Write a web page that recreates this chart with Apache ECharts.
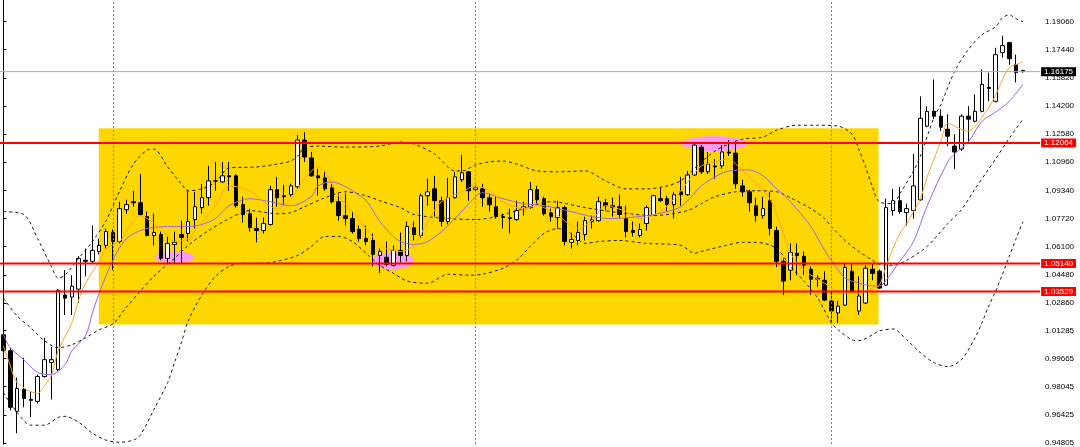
<!DOCTYPE html>
<html><head><meta charset="utf-8">
<script src="https://cdn.jsdelivr.net/npm/echarts@6/dist/echarts.min.js"></script>
<style>html,body{margin:0;padding:0;background:#fff;}#c{width:1080px;height:447px;}</style>
</head><body><div id="c"></div>
<script>
// ---- data (prices) ----
const opens = [1.0103,1.0011,0.9663,0.9788,0.9731,0.9720,0.9863,0.9943,0.9903,1.0332,1.0320,1.0366,1.0532,1.0526,1.0583,1.0618,1.0692,1.0640,1.0823,1.0869,
1.0863,1.0783,1.0675,1.0680,1.0543,1.0623,1.0680,1.0686,1.0766,1.0835,1.0892,1.0989,1.0983,1.1018,1.1018,1.0852,1.0800,1.0715,1.0703,1.0738,
1.0938,1.0903,1.0909,1.0955,1.1224,1.1121,1.1018,1.1006,1.0949,1.0869,1.0789,1.0772,1.0709,1.0657,1.0646,1.0560,1.0549,1.0503,1.0589,1.0560,
1.0720,1.0675,1.0903,1.0943,1.0875,1.0755,1.0892,1.0995,1.1041,1.0938,1.0943,1.0892,1.0840,1.0783,1.0778,1.0766,1.0829,1.0835,1.0938,1.0886,
1.0806,1.0778,1.0835,1.0635,1.0646,1.0680,1.0755,1.0760,1.0863,1.0846,1.0840,1.0772,1.0703,1.0675,1.0743,1.0795,1.0886,1.0886,1.0852,1.0926,
1.0909,1.1023,1.1183,1.1041,1.1075,1.1075,1.1155,1.1149,1.0960,1.0926,1.0846,1.0789,1.0875,1.0703,1.0526,1.0475,1.0572,1.0555,1.0480,1.0429,
1.0417,1.0297,1.0229,1.0274,1.0469,1.0240,1.0286,1.0480,1.0469,1.0389,1.0818,1.0875,1.0806,1.0818,1.0880,1.1304,1.1389,1.1361,1.1286,1.1189,
1.1172,1.1361,1.1332,1.1389,1.1527,1.1447,1.1727,1.1784,1.1658,1.1624];
const closes = [1.0011,0.9686,0.9794,0.9737,0.9726,0.9863,0.9960,0.9960,1.0360,1.0314,1.0383,1.0543,1.0526,1.0589,1.0618,1.0697,1.0640,1.0829,1.0852,1.0863,
1.0795,1.0675,1.0692,1.0543,1.0629,1.0635,1.0663,1.0755,1.0840,1.0892,1.0989,1.0988,1.1018,1.1012,1.0846,1.0795,1.0720,1.0703,1.0743,1.0938,
1.0892,1.0898,1.0960,1.1224,1.1126,1.1018,1.1006,1.0943,1.0869,1.0789,1.0772,1.0697,1.0657,1.0640,1.0566,1.0583,1.0509,1.0589,1.0560,1.0726,
1.0680,1.0903,1.0926,1.0875,1.0755,1.0892,1.1012,1.1035,1.0932,1.0949,1.0892,1.0852,1.0783,1.0778,1.0772,1.0818,1.0840,1.0938,1.0880,1.0800,
1.0783,1.0835,1.0640,1.0652,1.0692,1.0760,1.0766,1.0869,1.0846,1.0835,1.0795,1.0697,1.0692,1.0709,1.0835,1.0903,1.0875,1.0852,1.0909,1.0909,
1.1023,1.1195,1.1041,1.1086,1.1069,1.1155,1.1149,1.0972,1.0926,1.0863,1.0789,1.0829,1.0715,1.0526,1.0412,1.0577,1.0560,1.0503,1.0423,1.0423,
1.0303,1.0240,1.0269,1.0492,1.0354,1.0326,1.0486,1.0457,1.0372,1.0835,1.0875,1.0812,1.0829,1.0960,1.1349,1.1389,1.1361,1.1298,1.1246,1.1155,
1.1361,1.1344,1.1389,1.1544,1.1521,1.1715,1.1767,1.1692,1.1612,1.16175];
const highs = [1.0200,1.0029,0.9857,0.9971,0.9777,0.9874,1.0086,1.0034,1.0366,1.0475,1.0446,1.0555,1.0600,1.0732,1.0657,1.0715,1.0709,1.0869,1.0880,1.0932,
1.1029,1.0812,1.0800,1.0697,1.0669,1.0697,1.0760,1.0938,1.0926,1.0972,1.1075,1.1098,1.1098,1.1098,1.1029,1.0898,1.0829,1.0778,1.0778,1.0960,
1.1012,1.0966,1.0972,1.1252,1.1269,1.1155,1.1058,1.1041,1.0972,1.0915,1.0915,1.0812,1.0732,1.0732,1.0686,1.0600,1.0640,1.0618,1.0692,1.0755,
1.0755,1.0915,1.1001,1.1018,1.0898,1.1006,1.1041,1.1138,1.1046,1.0966,1.0972,1.0915,1.0898,1.0800,1.0829,1.0875,1.0869,1.0983,1.0960,1.0898,
1.0829,1.0875,1.0846,1.0686,1.0755,1.0783,1.0789,1.0898,1.0886,1.0892,1.0909,1.0846,1.0755,1.0743,1.0846,1.0909,1.0949,1.0903,1.0926,1.1012,
1.1046,1.1201,1.1195,1.1155,1.1115,1.1195,1.1224,1.1218,1.0995,1.0938,1.0892,1.0898,1.0926,1.0726,1.0543,1.0629,1.0629,1.0583,1.0497,1.0446,
1.0469,1.0354,1.0297,1.0515,1.0515,1.0440,1.0503,1.0515,1.0480,1.0886,1.0943,1.0955,1.0858,1.1144,1.1475,1.1418,1.1572,1.1401,1.1372,1.1258,
1.1372,1.1418,1.1487,1.1629,1.1612,1.1755,1.1824,1.1790,1.1715,1.1629];
const lows = [0.9971,0.9668,0.9537,0.9686,0.9628,0.9708,0.9857,0.9731,0.9891,1.0217,1.0217,1.0286,1.0440,1.0515,1.0566,1.0600,1.0475,1.0629,1.0800,1.0840,
1.0789,1.0669,1.0618,1.0532,1.0515,1.0515,1.0515,1.0640,1.0715,1.0800,1.0846,1.0932,1.0978,1.0932,1.0835,1.0749,1.0697,1.0635,1.0686,1.0732,
1.0840,1.0846,1.0898,1.0943,1.1098,1.1012,1.0903,1.0932,1.0858,1.0760,1.0732,1.0686,1.0640,1.0618,1.0497,1.0457,1.0497,1.0497,1.0520,1.0526,
1.0646,1.0663,1.0846,1.0783,1.0726,1.0738,1.0886,1.0983,1.0875,1.0926,1.0840,1.0812,1.0772,1.0715,1.0686,1.0760,1.0789,1.0829,1.0858,1.0789,
1.0755,1.0715,1.0618,1.0600,1.0618,1.0646,1.0715,1.0755,1.0818,1.0783,1.0772,1.0663,1.0669,1.0663,1.0703,1.0789,1.0869,1.0812,1.0772,1.0846,
1.0903,1.1018,1.1029,1.1029,1.1001,1.1058,1.1132,1.0943,1.0898,1.0812,1.0755,1.0772,1.0675,1.0492,1.0332,1.0417,1.0446,1.0446,1.0332,1.0377,
1.0297,1.0171,1.0171,1.0269,1.0343,1.0217,1.0280,1.0417,1.0366,1.0383,1.0789,1.0800,1.0732,1.0772,1.0875,1.1298,1.1344,1.1275,1.1189,1.1058,
1.1161,1.1212,1.1326,1.1384,1.1447,1.1441,1.1698,1.1658,1.1555,1.1612];

// indicator lines: [bar index, price]
const maFast = [[0,1.0040],[1,0.9926],[2,0.9828],[5,0.9766],[6,0.9811],[7,0.9868],[8,1.0011],[10,1.0172],[11,1.0303],[12,1.0400],[14,1.0526],[15,1.0600],[17,1.0640],[18,1.0703],[20,1.0789],[21,1.0772],[23,1.0715],[25,1.0640],[27,1.0657],[28,1.0703],[31,1.0846],[33,1.0960],[36,1.0932],[38,1.0869],[40,1.0829],[42,1.0886],[44,1.1001],[46,1.1069],[47,1.1041],[49,1.0903],[51,1.0812],[53,1.0715],[55,1.0618],[56,1.0600],[58,1.0583],[60,1.0618],[62,1.0755],[64,1.0869],[67,1.0926],[69,1.0960],[71,1.0932],[73,1.0869],[76,1.0829],[78,1.0846],[81,1.0789],[84,1.0715],[86,1.0760],[88,1.0846],[91,1.0812],[93,1.0772],[96,1.0812],[98,1.0886],[100,1.0983],[102,1.1075],[104,1.1098],[106,1.1115],[107,1.1086],[110,1.0972],[112,1.0886],[113,1.0800],[114,1.0686],[115,1.0572],[117,1.0475],[120,1.0400],[122,1.0354],[125,1.0343],[127,1.0372],[128,1.0389],[129,1.0497],[130,1.0600],[131,1.0686],[132,1.0743],[133,1.0812],[134,1.0886],[135,1.1012],[136,1.1115],[137,1.1218],[138,1.1321],[139,1.1304],[140,1.1286],[141,1.1275],[142,1.1304],[143,1.1355],[144,1.1412],[145,1.1481],[146,1.1572],[147,1.1641],[148,1.1658],[149,1.1675]];
const maSlow = [[0,1.0103],[1,1.0029],[3,0.9960],[5,0.9886],[7,0.9874],[9,0.9931],[10,1.0011],[12,1.0097],[13,1.0229],[14,1.0343],[16,1.0532],[18,1.0657],[21,1.0715],[25,1.0726],[27,1.0726],[29,1.0738],[31,1.0772],[33,1.0846],[36,1.0886],[39,1.0869],[42,1.0846],[45,1.0898],[46,1.0960],[48,1.0983],[50,1.0955],[53,1.0875],[55,1.0755],[57,1.0669],[58,1.0640],[60,1.0623],[62,1.0640],[64,1.0697],[66,1.0772],[69,1.0898],[70,1.0921],[73,1.0886],[76,1.0858],[79,1.0846],[83,1.0812],[86,1.0783],[89,1.0772],[94,1.0789],[97,1.0812],[99,1.0840],[100,1.0875],[102,1.0960],[104,1.1012],[106,1.1046],[109,1.1052],[111,1.1018],[113,1.0943],[115,1.0869],[118,1.0726],[120,1.0589],[121,1.0532],[122,1.0475],[123,1.0429],[125,1.0400],[126,1.0389],[128,1.0383],[129,1.0417],[131,1.0526],[133,1.0640],[135,1.0846],[138,1.1098],[139,1.1144],[141,1.1212],[143,1.1332],[145,1.1384],[147,1.1447],[149,1.1544]];
const bbUpper = [[0,1.0812],[3,1.0795],[5,1.0657],[7,1.0497],[8,1.0429],[9,1.0446],[11,1.0543],[13,1.0640],[15,1.0760],[17,1.0932],[19,1.1086],[21,1.1166],[22,1.1172],[24,1.1069],[26,1.0972],[27,1.0932],[29,1.0943],[31,1.0983],[33,1.1063],[37,1.1069],[40,1.1086],[42,1.1103],[43,1.1132],[44,1.1178],[46,1.1189],[50,1.1183],[55,1.1189],[58,1.1212],[60,1.1201],[63,1.1144],[66,1.1046],[67,1.1046],[69,1.1081],[71,1.1098],[73,1.1103],[75,1.1086],[78,1.1046],[81,1.1041],[85,1.1046],[88,1.0989],[91,1.0943],[94,1.0943],[97,1.0960],[99,1.0989],[100,1.1023],[102,1.1098],[104,1.1161],[106,1.1201],[108,1.1229],[111,1.1241],[113,1.1281],[116,1.1309],[119,1.1309],[122,1.1304],[124,1.1258],[125,1.1172],[126,1.1069],[127,1.0955],[128,1.0869],[130,1.0858],[131,1.0915],[133,1.1046],[134,1.1132],[136,1.1355],[137,1.1429],[139,1.1618],[141,1.1744],[143,1.1830],[145,1.1875],[146,1.1927],[147,1.1944],[148,1.1921],[149,1.1904]];
const bbMiddle = [[0,1.0314],[2,1.0212],[4,1.0143],[6,1.0069],[8,1.0029],[10,1.0046],[12,1.0086],[14,1.0132],[16,1.0166],[18,1.0263],[20,1.0354],[22,1.0440],[25,1.0543],[27,1.0618],[30,1.0703],[33,1.0772],[36,1.0818],[40,1.0800],[42,1.0806],[44,1.0840],[47,1.0892],[50,1.0926],[53,1.0903],[55,1.0875],[58,1.0835],[60,1.0795],[65,1.0772],[69,1.0766],[72,1.0783],[76,1.0829],[80,1.0869],[85,1.0835],[90,1.0806],[95,1.0789],[100,1.0818],[102,1.0858],[104,1.0898],[107,1.0926],[110,1.0932],[113,1.0926],[115,1.0892],[118,1.0829],[120,1.0772],[121,1.0726],[123,1.0646],[125,1.0583],[127,1.0532],[128,1.0509],[130,1.0503],[132,1.0532],[135,1.0612],[138,1.0743],[140,1.0823],[142,1.0943],[144,1.1058],[145,1.1115],[147,1.1235],[149,1.1344]];
const bbLower = [[0,0.9771],[2,0.9657],[4,0.9583],[6,0.9583],[8,0.9628],[9,0.9634],[11,0.9600],[13,0.9537],[15,0.9497],[17,0.9485],[19,0.9497],[20,0.9525],[22,0.9674],[24,0.9828],[25,0.9943],[26,1.0057],[27,1.0183],[29,1.0332],[31,1.0440],[33,1.0497],[35,1.0515],[38,1.0515],[40,1.0526],[43,1.0560],[45,1.0612],[47,1.0669],[49,1.0669],[51,1.0640],[53,1.0572],[55,1.0503],[57,1.0457],[59,1.0412],[62,1.0400],[65,1.0452],[68,1.0446],[70,1.0452],[73,1.0486],[75,1.0532],[77,1.0612],[79,1.0686],[81,1.0715],[83,1.0686],[85,1.0629],[87,1.0640],[90,1.0646],[94,1.0629],[99,1.0618],[101,1.0572],[102,1.0583],[105,1.0612],[108,1.0635],[110,1.0635],[113,1.0600],[115,1.0497],[117,1.0412],[119,1.0314],[121,1.0172],[122,1.0132],[124,1.0074],[125,1.0069],[127,1.0103],[128,1.0126],[130,1.0137],[132,1.0074],[134,1.0000],[136,0.9943],[138,0.9920],[140,0.9960],[142,1.0086],[143,1.0172],[144,1.0269],[145,1.0354],[146,1.0452],[147,1.0555],[148,1.0657],[149,1.0755]];

const supportResistance = [1.12064, 1.05140, 1.03529];
const lastPrice = 1.16175;
const priceTicks = [1.19060,1.17440,1.15820,1.14200,1.12580,1.10960,1.09340,1.07720,1.06100,1.04480,1.02860,1.01285,0.99665,0.98045,0.96425,0.94805];
const periodSeparators = [16, 69, 121];
const rangeBox = [[13.94, 1.12910], [127.89, 1.01630]]; // [bar index, price] corners
const touchZones = [[25.0, 1.0549], [56.9, 1.0529], [103.9, 1.1204]]; // [bar index, price]

// ---- styles / layout ----
const ellipseSizes = [[40, 12], [42, 17], [66, 15]];
const barCount = 152;
const step = 6.854;
const categories = Array.from({length: barCount}, (_, i) => String(i));
const candles = opens.map((o, i) => [o, closes[i], lows[i], highs[i]]);
const FONT = 'Liberation Sans, Arial, sans-serif';

const chart = echarts.init(document.getElementById('c'), null, {renderer: 'canvas'});
const dashed = (data, name) => ({
  name, type: 'line', xAxisIndex: 1, data, showSymbol: false, smooth: 0.3, z: 4, silent: true,
  lineStyle: {color: '#1a1a1a', width: 1, type: [3, 3]}
});
const levelLine = (value, color, width, bg, z) => ({
  type: 'line', xAxisIndex: 1, z, silent: true, showSymbol: false, clip: false,
  data: [[-0.5, value], [barCount - 0.5, value]],
  lineStyle: {color, width, type: 'solid'},
  endLabel: {show: true, formatter: value.toFixed(5), backgroundColor: bg, color: '#fff',
    fontSize: 8, fontFamily: FONT, padding: [1, 3, 0, 3], lineHeight: 8, distance: 1}
});
chart.setOption({
  animation: false,
  backgroundColor: '#ffffff',
  grid: {left: -1.7, top: 0, width: barCount * step, height: 447},
  xAxis: [
    {type: 'category', data: categories, boundaryGap: true, show: false},
    {type: 'value', min: -0.5, max: barCount - 0.5, show: false}
  ],
  yAxis: {
    type: 'value', position: 'right', min: 0.94739, max: 1.20297,
    splitLine: {show: false},
    axisLine: {show: true, lineStyle: {color: '#000', width: 1}},
    axisTick: {show: true, inside: false, length: 3, lineStyle: {color: '#000'}, customValues: priceTicks},
    axisLabel: {show: true, color: '#000', fontSize: 8, fontFamily: FONT, margin: 5,
      customValues: priceTicks, formatter: v => Number(v).toFixed(5)}
  },
  series: [
    {
      name: 'box', type: 'line', xAxisIndex: 1, data: [], z: 1, silent: true,
      markArea: {silent: true, itemStyle: {color: '#ffd700', opacity: 1},
        data: [[{xAxis: rangeBox[0][0], yAxis: rangeBox[0][1]}, {xAxis: rangeBox[1][0], yAxis: rangeBox[1][1]}]]},
      markLine: {silent: true, symbol: ['none', 'none'], label: {show: false},
        lineStyle: {color: '#7a7a7a', width: 1, type: [2, 2]},
        data: periodSeparators.map(v => ({xAxis: v}))}
    },
    {
      name: 'zones', type: 'scatter', xAxisIndex: 1, z: 2, silent: true,
      data: touchZones.map((p, i) => ({value: p, symbolSize: ellipseSizes[i]})),
      symbol: 'circle', itemStyle: {color: '#f99cf2', opacity: 1}
    },
    {
      name: 'price', type: 'candlestick', xAxisIndex: 0, data: candles, barWidth: 4, z: 3, silent: true,
      itemStyle: {color: '#ffffff', color0: '#000000', borderColor: '#000000', borderColor0: '#000000', borderWidth: 1}
    },
    dashed(bbUpper, 'bbUpper'),
    dashed(bbMiddle, 'bbMiddle'),
    dashed(bbLower, 'bbLower'),
    {name: 'maSlow', type: 'line', xAxisIndex: 1, data: maSlow, showSymbol: false, smooth: 0.3, z: 4, silent: true,
      lineStyle: {color: '#9a66f0', width: 1}},
    {name: 'maFast', type: 'line', xAxisIndex: 1, data: maFast, showSymbol: false, smooth: 0.3, z: 4, silent: true,
      lineStyle: {color: '#ffa52a', width: 1}},
    levelLine(lastPrice, '#a4acb4', 1, '#000000', 5),
    ...supportResistance.map(v => levelLine(v, '#ff0000', 2, '#ff0000', 6))
  ]
});
</script>
</body></html>
